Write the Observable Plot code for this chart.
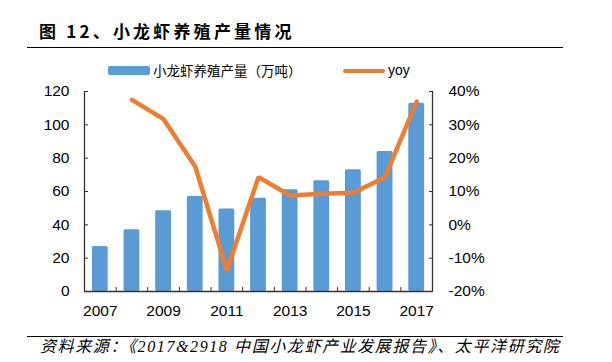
<!DOCTYPE html>
<html><head><meta charset="utf-8">
<script src="https://cdn.jsdelivr.net/npm/d3@7"></script>
<script src="https://cdn.jsdelivr.net/npm/@observablehq/plot@0.6"></script>
<style>
body{margin:0;background:#fff;}
#wrap{position:relative;width:612px;height:362px;overflow:hidden;background:#fff;font-family:"Liberation Sans",Arial,sans-serif;}
.abs{position:absolute;white-space:nowrap;}
#title{left:39px;top:21px;font-family:"Noto Sans CJK SC";font-weight:700;font-size:17px;letter-spacing:3.2px;line-height:20px;color:#000;}
.rule{position:absolute;left:27px;width:536px;height:1.5px;background:#000;}
#foot{left:40px;top:337px;font-family:"Liberation Serif","Noto Sans CJK SC";font-style:italic;font-size:16px;letter-spacing:1.6px;line-height:20px;color:#000;}
.leg{font-family:"Noto Sans CJK SC";font-size:13.5px;line-height:18px;color:#000;}
#chart{position:absolute;left:0;top:80px;}
</style></head>
<body><div id="wrap">
<div id="title" class="abs">图 12、小龙虾养殖产量情况</div>
<div class="rule" style="top:46.5px"></div>
<div class="abs" style="left:108px;top:66px;width:42px;height:9px;background:#5B9BD5;border-radius:2px"></div>
<div class="abs leg" style="left:153px;top:61px">小龙虾养殖产量（万吨）</div>
<div class="abs" style="left:343px;top:68.5px;width:42px;height:4px;background:#ED7D31;border-radius:2px"></div>
<div class="abs leg" style="left:388px;top:61px;font-family:'Liberation Sans';font-size:14px">yoy</div>
<div id="chart"></div>
<div class="rule" style="top:335.5px"></div>
<div id="foot" class="abs">资料来源：《2017&amp;2918 中国小龙虾产业发展报告》、太平洋研究院</div>
</div>
<script>
const years = [2007, 2008, 2009, 2010, 2011, 2012, 2013, 2014, 2015, 2016, 2017];
const output = [27, 37, 48.5, 57, 49.5, 56, 61, 66.5, 73, 84, 113];
const yoyYears = [2008, 2009, 2010, 2011, 2012, 2013, 2014, 2015, 2016, 2017];
const yoy = [37.5, 31.7, 17.5, -13.7, 14.3, 8.8, 9.3, 9.6, 14.3, 37];
const leftTicks = [0, 20, 40, 60, 80, 100, 120];
const rightTicks = [-20, -10, 0, 10, 20, 30, 40];
const xLabels = [2007, 2009, 2011, 2013, 2015, 2017];

// map right-axis percentage onto the left-axis domain (−20..40 → 0..120)
const toLeft = v => (v + 20) * 2;
const fromLeft = v => v / 2 - 20;

const bars = years.map((year, i) => ({year, value: output[i]}));
const line = yoyYears.map((year, i) => ({year, value: toLeft(yoy[i])}));
const bounds = years.map(y => y - 0.5).concat([years[years.length - 1] + 0.5]);

const chart = Plot.plot({
  width: 612, height: 245,
  marginTop: 11, marginBottom: 34, marginLeft: 84, marginRight: 180,
  x: {domain: [bounds[0], bounds[bounds.length - 1]]},
  y: {domain: [0, 120]},
  style: {fontFamily: "Liberation Sans, Arial, sans-serif", fontSize: "15.5px", color: "#000", background: "transparent", overflow: "visible"},
  marks: [
    Plot.rectY(bars, {x1: d => d.year - 0.25, x2: d => d.year + 0.25, y: "value", fill: "#5B9BD5", rx: 1.5}),
    Plot.ruleX([bounds[0], bounds[bounds.length - 1]], {stroke: "#333", strokeWidth: 1.3}),
    Plot.ruleY([0], {stroke: "#333", strokeWidth: 1.3}),
    Plot.axisY(leftTicks, {anchor: "left", tickSize: -4, tickPadding: 19, tickFormat: d => String(d), label: null, stroke: "#333"}),
    Plot.axisY(rightTicks.map(toLeft), {anchor: "right", tickSize: -4, tickPadding: 20, tickFormat: d => `${fromLeft(d)}%`, label: null, stroke: "#333"}),
    Plot.axisX(bounds, {tickSize: -4, tickFormat: () => "", label: null, stroke: "#333"}),
    Plot.axisX(xLabels, {tickSize: 0, tickPadding: 13, tickFormat: d => String(d), label: null}),
    Plot.line(line, {x: "year", y: "value", stroke: "#ED7D31", strokeWidth: 4.5, strokeLinejoin: "miter"})
  ]
});
document.getElementById("chart").appendChild(chart);
</script>
</body></html>
